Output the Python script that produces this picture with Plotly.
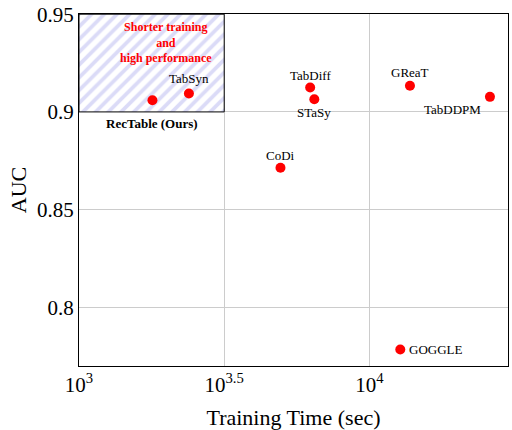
import numpy as np
import plotly.graph_objects as go

# training time (sec) vs AUC
models = ['RecTable (Ours)', 'TabSyn', 'TabDiff', 'STaSy', 'CoDi', 'GReaT', 'TabDDPM', 'GOGGLE']
train_time = [1790, 2390, 6250, 6460, 4940, 13790, 26000, 12770]
auc = [0.906, 0.9094, 0.9125, 0.9065, 0.8714, 0.9134, 0.9077, 0.7784]

# label offsets in px (xshift, yshift)
label_shift = [(0, -23), (0, 15), (0, 12), (0, -13), (0, 12), (0, 13), (-37, -13), (35, 0)]

# "good" region
region_x = [1000, 10 ** 3.5]
region_y = [0.90, 0.95]

serif = 'Liberation Serif'

fig = go.Figure()

# hatched region
fig.add_trace(go.Scatter(
    x=[region_x[0], region_x[1], region_x[1], region_x[0], region_x[0]],
    y=[region_y[0], region_y[0], region_y[1], region_y[1], region_y[0]],
    mode='lines', fill='toself',
    fillcolor='white',
    fillpattern=dict(shape='/', fgcolor='#b8b8f0', bgcolor='white', size=9, solidity=0.42),
    line=dict(color='black', width=1),
    hoverinfo='skip', showlegend=False))

fig.add_trace(go.Scatter(
    x=train_time, y=auc, mode='markers',
    marker=dict(color='#ff0000', size=10),
    text=models, showlegend=False))

for name, t, a, (dx, dy) in zip(models, train_time, auc, label_shift):
    txt = '<b>' + name + '</b>' if 'Ours' in name else name
    fig.add_annotation(x=np.log10(t), y=a, text=txt, showarrow=False,
                       xshift=dx, yshift=dy,
                       font=dict(family=serif, size=13, color='black'))

fig.add_annotation(x=3.3, y=0.9356, text='<b>Shorter training<br>and<br>high performance</b>',
                   showarrow=False, align='center',
                   font=dict(family=serif, size=12, color='#ff0000'))

fig.update_xaxes(type='log', range=[3, np.log10(30000)],
                 tickvals=[1000, 10 ** 3.5, 10000],
                 ticktext=['10<sup>3</sup>', '10<sup>3.5</sup>', '10<sup>4</sup>'],
                 showgrid=True, gridcolor='#cccccc', gridwidth=1,
                 showline=True, linecolor='black', linewidth=1.2, mirror=True,
                 ticks='', zeroline=False, ticklabeloverflow='allow',
                 title=dict(text='Training Time (sec)', standoff=14,
                            font=dict(family=serif, size=22, color='black')),
                 tickfont=dict(family=serif, size=21, color='black'))
fig.update_yaxes(range=[0.77, 0.9501],
                 tickvals=[0.8, 0.85, 0.9, 0.95],
                 ticktext=['0.8', '0.85', '0.9', '0.95'],
                 showgrid=True, gridcolor='#cccccc', gridwidth=1,
                 showline=True, linecolor='black', linewidth=1.2, mirror=True,
                 ticks='', zeroline=False, ticklabeloverflow='allow',
                 title=dict(text='AUC', standoff=4,
                            font=dict(family=serif, size=22, color='black')),
                 tickfont=dict(family=serif, size=21, color='black'))

fig.update_layout(width=512, height=430,
                  margin=dict(l=79, r=3, t=10, b=63),
                  plot_bgcolor='white', paper_bgcolor='white')

# drop the browser's default body margin so the figure sits at the window corner
fig.write_html('out.html', config={'displayModeBar': False},
               post_script="document.body.style.margin='0';")
